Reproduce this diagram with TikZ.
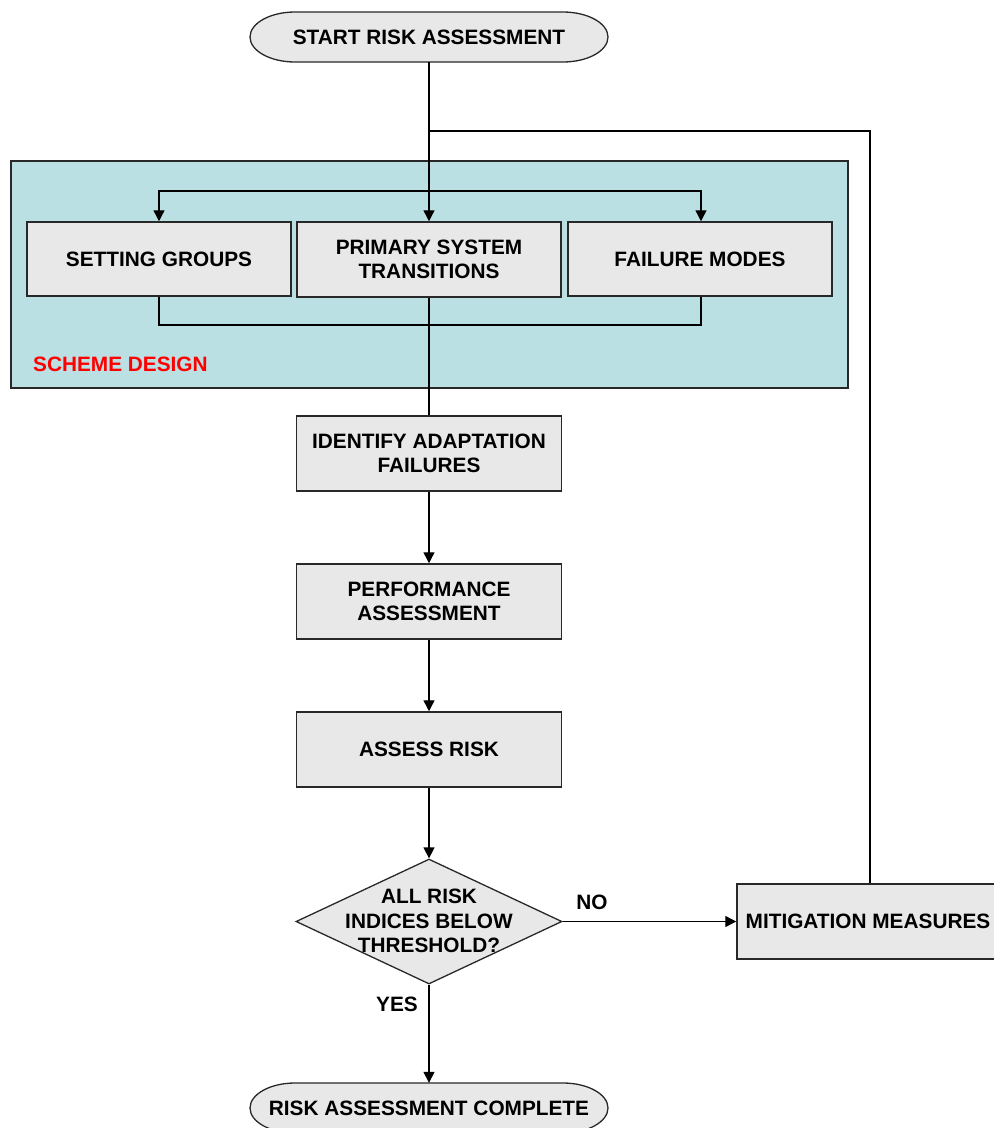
\documentclass[tikz,border=0pt]{standalone}
\usepackage{fontspec}
\setmainfont{Liberation Sans}
\usetikzlibrary{arrows.meta,shapes.geometric}
\definecolor{boxfill}{RGB}{232,232,232}
\definecolor{schemefill}{RGB}{187,224,227}
\definecolor{edge}{RGB}{40,40,40}
\begin{document}
\begin{tikzpicture}[x=1pt,y=-1pt,
  lbl/.style={font=\fontsize{20.8}{24.5}\selectfont\bfseries, align=center, inner sep=0pt},
  procbox/.style={lbl, rectangle, draw=edge, fill=boxfill, line width=1.5pt,
                  minimum width=265pt, minimum height=75pt},
  termtext/.style={lbl, minimum width=358pt, minimum height=50pt},
  termshape/.style={draw=edge, fill=boxfill, line width=1.3pt},
  decision/.style={diamond, draw=edge, fill=boxfill, line width=1.3pt, inner sep=0pt,
                   minimum width=266pt, minimum height=125pt},
  wire/.style={line width=1.4pt, black},
  arrow/.style={wire, -{Triangle[length=11pt,width=11pt]}}]
\useasboundingbox (0,0) rectangle (994,1128);

% scheme design panel
\draw[fill=schemefill, draw=edge, line width=1.5pt] (11,161) rectangle (848,388);
\node[lbl, anchor=west, text=red] (schemelbl) at (33,364.5) {SCHEME DESIGN};

% terminator outlines
\filldraw[termshape] (295,12) -- (563,12)
  arc[start angle=-90, end angle=90, x radius=45, y radius=25]
  -- (295,62) arc[start angle=90, end angle=270, x radius=45, y radius=25] -- cycle;
\filldraw[termshape] (295,1083) -- (563,1083)
  arc[start angle=-90, end angle=90, x radius=45, y radius=25]
  -- (295,1133) arc[start angle=90, end angle=270, x radius=45, y radius=25] -- cycle;

\node[termtext] (start) at (429,37) {START RISK ASSESSMENT};
\node[termtext] (done) at (429,1108) {RISK ASSESSMENT COMPLETE};

% process boxes
\node[procbox, minimum width=264pt, minimum height=74pt] (setting) at (159,259) {SETTING GROUPS};
\node[procbox, minimum width=264pt] (primary) at (429,259.5) {PRIMARY SYSTEM\\TRANSITIONS};
\node[procbox, minimum width=264pt, minimum height=74pt] (failure) at (700,259) {FAILURE MODES};
\node[procbox] (identify) at (429,453.5) {IDENTIFY ADAPTATION\\FAILURES};
\node[procbox] (perf) at (429,601.5) {PERFORMANCE\\ASSESSMENT};
\node[procbox] (assess) at (429,749.5) {ASSESS RISK};
\node[procbox, minimum width=262pt] (mitig) at (868,921.5) {MITIGATION MEASURES};

% decision
\node[decision] (dec) at (429,921.5) {};
\node[lbl] (dectext) at (429,921) {ALL RISK\\INDICES BELOW\\THRESHOLD?};
\node[lbl] (nolbl) at (592,902) {NO};
\node[lbl] (yeslbl) at (397,1004) {YES};

% junction points
\coordinate (split) at (429,191);
\coordinate (merge) at (429,325);
\coordinate (loopjoin) at (429,131);
\coordinate (loopcorner) at (870,131);

% connectors
\draw[arrow] (start.south) -- (primary.north);
\draw[arrow] (split) -| (setting.north);
\draw[arrow] (split) -| ([xshift=1pt]failure.north);
\draw[wire] (setting.south) |- (merge);
\draw[wire] ([xshift=1pt]failure.south) |- (merge);
\draw[wire] (primary.south) -- (identify.north);
\draw[arrow] (identify.south) -- (perf.north);
\draw[arrow] (perf.south) -- (assess.north);
\draw[arrow] (assess.south) -- (dec.north);
\draw[arrow] (dec.east) -- (mitig.west);
\draw[arrow] (dec.south) -- (done.north);
\draw[wire] ([xshift=2pt]mitig.north) -- (loopcorner) -- (loopjoin);
\end{tikzpicture}
\end{document}
